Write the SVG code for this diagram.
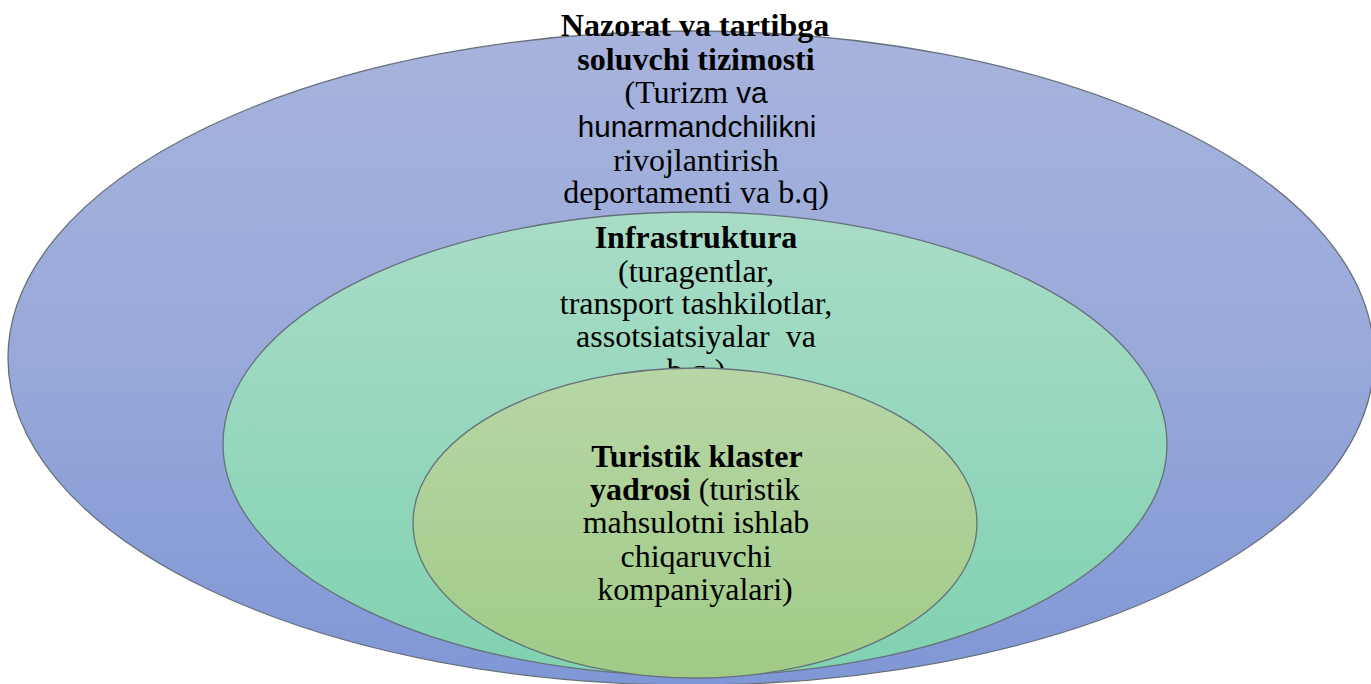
<svg xmlns="http://www.w3.org/2000/svg" width="1371" height="684" viewBox="0 0 1371 684">
<defs>
<linearGradient id="gOuter" x1="0" y1="0" x2="0" y2="1">
<stop offset="0" stop-color="#a7b3dc"/>
<stop offset="0.5" stop-color="#98a9da"/>
<stop offset="1" stop-color="#8097d6"/>
</linearGradient>
<linearGradient id="gMid" x1="0" y1="0" x2="0" y2="1">
<stop offset="0" stop-color="#a9dcc7"/>
<stop offset="1" stop-color="#80d2b1"/>
</linearGradient>
<linearGradient id="gIn" x1="0" y1="0" x2="0" y2="1">
<stop offset="0" stop-color="#b7d6a6"/>
<stop offset="1" stop-color="#a0cb86"/>
</linearGradient>
<style>
.ring{stroke:#66707a;stroke-width:1.3}
.t{font-family:"Liberation Serif","Times New Roman",serif;font-size:32px;fill:#000;text-anchor:middle}
.b{font-weight:bold}
.s{font-family:"Liberation Sans",Arial,sans-serif;font-size:29.6px}
</style>
</defs>
<rect width="1371" height="684" fill="#ffffff"/>
<g id="connectors"/>
<g id="outer">
<ellipse class="ring" cx="691" cy="358" rx="683" ry="327" fill="url(#gOuter)"/>
<text class="t b" x="695" y="36">Nazorat va tartibga</text>
<text class="t b" x="696" y="70">soluvchi tizimosti</text>
<text class="t" x="696" y="103">(Turizm <tspan class="s">va</tspan></text>
<text class="t s" x="697" y="137">hunarmandchilikni</text>
<text class="t" x="696" y="171">rivojlantirish</text>
<text class="t" x="696" y="203">deportamenti va b.q)</text>
</g>
<g id="middle">
<ellipse class="ring" cx="695" cy="444" rx="472" ry="232" fill="url(#gMid)"/>
<text class="t b" x="696" y="248">Infrastruktura</text>
<text class="t" x="696" y="282">(turagentlar,</text>
<text class="t" x="696" y="314">transport tashkilotlar,</text>
<text class="t" x="696" y="347">assotsiatsiyalar&#160; va</text>
<text class="t" x="696" y="381">b.q.)</text>
</g>
<g id="inner">
<ellipse class="ring" cx="695" cy="523" rx="282" ry="155" fill="url(#gIn)"/>
<text class="t b" x="697" y="467">Turistik klaster</text>
<text class="t" x="695" y="500"><tspan class="b">yadrosi</tspan> (turistik</text>
<text class="t" x="696" y="533">mahsulotni ishlab</text>
<text class="t" x="696" y="567">chiqaruvchi</text>
<text class="t" x="695" y="600">kompaniyalari)</text>
</g>
</svg>
